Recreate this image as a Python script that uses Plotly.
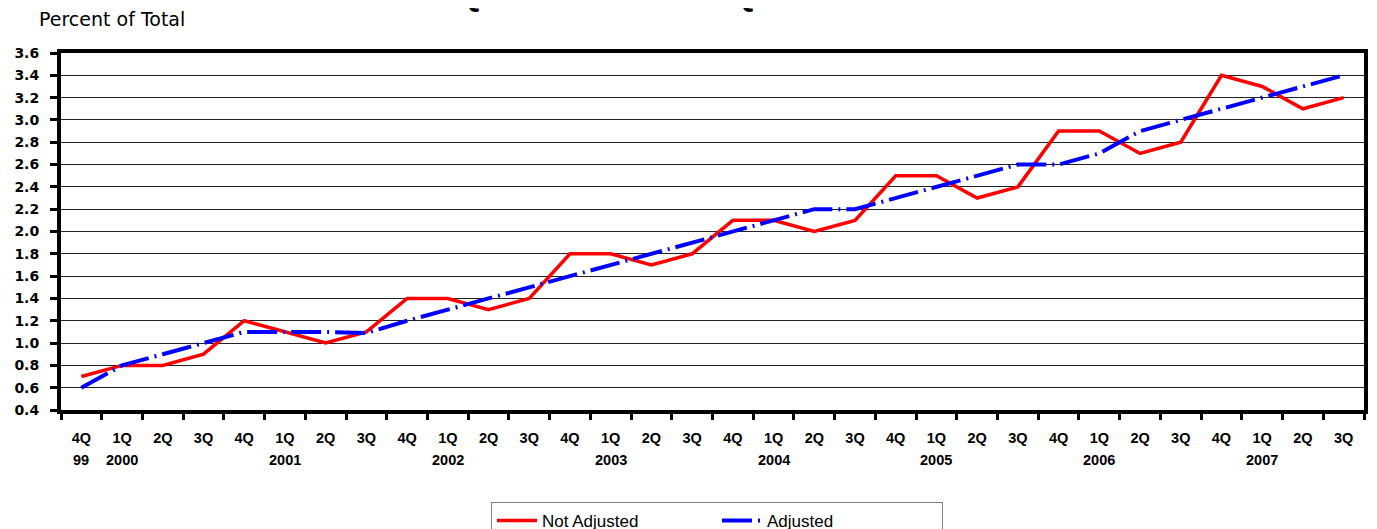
import plotly.graph_objects as go

quarters = ["4Q-1999", "1Q-2000", "2Q-2000", "3Q-2000", "4Q-2000",
            "1Q-2001", "2Q-2001", "3Q-2001", "4Q-2001",
            "1Q-2002", "2Q-2002", "3Q-2002", "4Q-2002",
            "1Q-2003", "2Q-2003", "3Q-2003", "4Q-2003",
            "1Q-2004", "2Q-2004", "3Q-2004", "4Q-2004",
            "1Q-2005", "2Q-2005", "3Q-2005", "4Q-2005",
            "1Q-2006", "2Q-2006", "3Q-2006", "4Q-2006",
            "1Q-2007", "2Q-2007", "3Q-2007"]
quarter_labels = [q.split("-")[0] for q in quarters]
year_positions = ["4Q-1999", "1Q-2000", "1Q-2001", "1Q-2002", "1Q-2003",
                  "1Q-2004", "1Q-2005", "1Q-2006", "1Q-2007"]
year_labels = ["99", "2000", "2001", "2002", "2003", "2004", "2005", "2006", "2007"]

not_adjusted = [0.7, 0.8, 0.8, 0.9, 1.2, 1.1, 1.0, 1.1, 1.4, 1.4, 1.3, 1.4,
                1.8, 1.8, 1.7, 1.8, 2.1, 2.1, 2.0, 2.1, 2.5, 2.5, 2.3, 2.4,
                2.9, 2.9, 2.7, 2.8, 3.4, 3.3, 3.1, 3.2]
adjusted = [0.6, 0.8, 0.9, 1.0, 1.1, 1.1, 1.1, 1.09, 1.2, 1.3, 1.4, 1.5,
            1.6, 1.7, 1.8, 1.9, 2.0, 2.1, 2.2, 2.2, 2.3, 2.4, 2.5, 2.6,
            2.6, 2.7, 2.9, 3.0, 3.1, 3.2, 3.3, 3.4]

W, H = 1377, 529
OFF = 8  # page body margin offset
# desired plot area in screen pixels
S_LEFT, S_RIGHT, S_TOP, S_BOTTOM = 61, 1364, 53, 410
ML = S_LEFT - OFF
MT = S_TOP - OFF
MR = W - (S_RIGHT - OFF)
MB = H - (S_BOTTOM - OFF)
PH = S_BOTTOM - S_TOP
PW = S_RIGHT - S_LEFT


def py(screen_y):
    return (S_BOTTOM - screen_y) / PH


def px(screen_x):
    return (screen_x - S_LEFT) / PW


fig = go.Figure()
fig.add_trace(go.Scatter(x=quarters, y=not_adjusted, mode="lines", name="Not Adjusted",
                         line=dict(color="#ff0000", width=3.5)))
fig.add_trace(go.Scatter(x=quarters, y=adjusted, mode="lines", name="Adjusted",
                         line=dict(color="#0000ff", width=4, dash="30px,6px,2px,6px")))

tick_font = dict(family="Liberation Sans, Arial, sans-serif", size=14.5, color="black", weight="bold")

fig.update_xaxes(type="category", categoryorder="array", categoryarray=quarters,
                 range=[-0.5, len(quarters) - 0.5], automargin=False,
                 tickvals=quarters, ticktext=quarter_labels, tickson="boundaries",
                 ticks="outside", ticklen=6, tickwidth=3, tickcolor="black",
                 ticklabelstandoff=12,
                 showline=True, linewidth=4, linecolor="black", mirror=True,
                 showgrid=False, tickfont=tick_font, tickangle=0, zeroline=False)
fig.update_yaxes(range=[0.4, 3.6], dtick=0.2, tick0=0.4, tickformat=".1f",
                 automargin=False,
                 ticks="outside", ticklen=7, tickwidth=3, tickcolor="black",
                 ticklabelstandoff=8,
                 showline=True, linewidth=4, linecolor="black", mirror=True,
                 showgrid=True, gridcolor="#222222", gridwidth=1,
                 tickfont=dict(family="DejaVu Sans, sans-serif", size=14, color="black", weight="bold"),
                 zeroline=False)

annotations = []
for pos, lab in zip(year_positions, year_labels):
    annotations.append(dict(x=pos, xref="x", y=py(460), yref="paper", text=lab,
                            showarrow=False, xanchor="center", yanchor="middle",
                            font=tick_font))
annotations.append(dict(x=px(37), xref="paper", y=py(19), yref="paper",
                        text="Percent of Total", showarrow=False, xanchor="left", yanchor="middle",
                        font=dict(family="DejaVu Sans, sans-serif", size=19, color="black")))
annotations.append(dict(x=px(662), xref="paper", y=py(-5), yref="paper",
                        text="4th Quarter 1999 - 3rd Quarter 2007", showarrow=False,
                        xanchor="center", yanchor="middle",
                        font=dict(family="Liberation Sans, Arial, sans-serif", size=31,
                                  color="black", weight="bold")))

fig.update_layout(
    width=W, height=H,
    margin=dict(l=ML, r=MR, t=MT, b=MB, autoexpand=False),
    paper_bgcolor="white", plot_bgcolor="white",
    showlegend=True,
    legend=dict(orientation="h", x=px(717), xanchor="center", y=py(502), yanchor="top",
                bordercolor="#808080", borderwidth=1, bgcolor="white",
                font=dict(family="Liberation Sans, Arial, sans-serif", size=17, color="black"),
                entrywidth=170, entrywidthmode="pixels", itemwidth=40),
    annotations=annotations,
)

fig.write_html("out.html")
